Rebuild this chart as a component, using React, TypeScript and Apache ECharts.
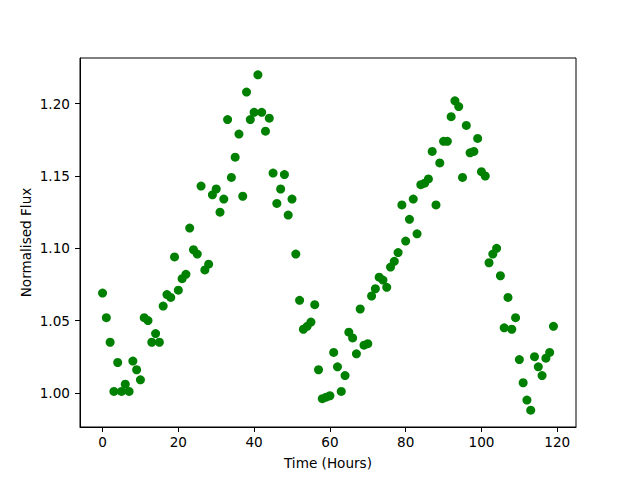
import React, { useEffect, useRef } from "react";
import * as echarts from "echarts";

const hours: number[] = [
  0, 1, 2, 3, 4, 5, 6, 7, 8, 9, 10, 11, 12, 13, 14, 15, 16, 17, 18, 19,
  20, 21, 22, 23, 24, 25, 26, 27, 28, 29, 30, 31, 32, 33, 34, 35, 36, 37, 38, 39,
  40, 41, 42, 43, 44, 45, 46, 47, 48, 49, 50, 51, 52, 53, 54, 55, 56, 57, 58, 59,
  60, 61, 62, 63, 64, 65, 66, 67, 68, 69, 70, 71, 72, 73, 74, 75, 76, 77, 78, 79,
  80, 81, 82, 83, 84, 85, 86, 87, 88, 89, 90, 91, 92, 93, 94, 95, 96, 97, 98, 99,
  100, 101, 102, 103, 104, 105, 106, 107, 108, 109, 110, 111, 112, 113, 114, 115, 116, 117, 118, 119,
];

const flux: number[] = [
  1.069, 1.052, 1.035, 1.001, 1.021, 1.001, 1.006, 1.001, 1.022, 1.016,
  1.009, 1.052, 1.05, 1.035, 1.041, 1.035, 1.06, 1.068, 1.066, 1.094,
  1.071, 1.079, 1.082, 1.114, 1.099, 1.096, 1.143, 1.085, 1.089, 1.137,
  1.141, 1.125, 1.134, 1.189, 1.149, 1.163, 1.179, 1.136, 1.208, 1.189,
  1.194, 1.22, 1.194, 1.181, 1.19, 1.152, 1.131, 1.141, 1.151, 1.123,
  1.134, 1.096, 1.064, 1.044, 1.046, 1.049, 1.061, 1.016, 0.996, 0.997,
  0.998, 1.028, 1.018, 1.001, 1.012, 1.042, 1.038, 1.027, 1.058, 1.033,
  1.034, 1.067, 1.072, 1.08, 1.078, 1.073, 1.087, 1.091, 1.097, 1.13,
  1.105, 1.12, 1.134, 1.11, 1.144, 1.145, 1.148, 1.167, 1.13, 1.159,
  1.174, 1.174, 1.191, 1.202, 1.198, 1.149, 1.185, 1.166, 1.167, 1.176,
  1.153, 1.15, 1.09, 1.096, 1.1, 1.081, 1.045, 1.066, 1.044, 1.052,
  1.023, 1.007, 0.995, 0.988, 1.025, 1.018, 1.012, 1.024, 1.028, 1.046,
];

const xTicks: number[] = [0, 20, 40, 60, 80, 100, 120];
const yTicks: number[] = [1.0, 1.05, 1.1, 1.15, 1.2];

const FONT = "DejaVu Sans";
const FS = 13.6;

export default function App() {
  const ref = useRef<HTMLDivElement>(null);
  useEffect(() => {
    if (!ref.current) return;
    const chart = echarts.init(ref.current, null, { renderer: "svg" });
    const points = hours.map((h, i) => [h, flux[i]]);
    chart.setOption({
      animation: false,
      backgroundColor: "#ffffff",
      grid: {
        left: 80,
        right: 64,
        top: 58,
        bottom: 53,
        show: true,
        borderColor: "#000000",
        borderWidth: 1,
        backgroundColor: "transparent",
      },
      xAxis: {
        type: "value",
        min: -5.95,
        max: 124.95,
        name: "Time (Hours)",
        nameLocation: "middle",
        nameGap: 29,
        nameMoveOverlap: false,
        nameTextStyle: { fontFamily: FONT, fontSize: FS, color: "#000" },
        splitLine: { show: false },
        axisLine: { show: true, onZero: false, lineStyle: { color: "#000", width: 1 } },
        axisTick: { show: true, length: 5, lineStyle: { color: "#000" }, customValues: xTicks },
        axisLabel: {
          color: "#000",
          fontFamily: FONT,
          fontSize: FS,
          margin: 8,
          customValues: xTicks,
          formatter: (v: number) => String(v),
        },
      },
      yAxis: {
        type: "value",
        min: 0.9764,
        max: 1.2316,
        name: "Normalised Flux",
        nameLocation: "middle",
        nameGap: 47,
        nameMoveOverlap: false,
        nameTextStyle: { fontFamily: FONT, fontSize: FS, color: "#000" },
        splitLine: { show: false },
        axisLine: { show: true, onZero: false, lineStyle: { color: "#000", width: 1 } },
        axisTick: { show: true, length: 5, lineStyle: { color: "#000" }, customValues: yTicks },
        axisLabel: {
          color: "#000",
          fontFamily: FONT,
          fontSize: FS,
          margin: 10,
          customValues: yTicks,
          formatter: (v: number) => v.toFixed(2),
        },
      },
      series: [
        {
          type: "scatter",
          data: points,
          symbol: "circle",
          symbolSize: 9,
          itemStyle: { color: "#008000", opacity: 1 },
        },
      ],
    });
    return () => chart.dispose();
  }, []);
  return <div ref={ref} style={{ width: 640, height: 480, position: "absolute", left: 0, top: 0 }} />;
}
